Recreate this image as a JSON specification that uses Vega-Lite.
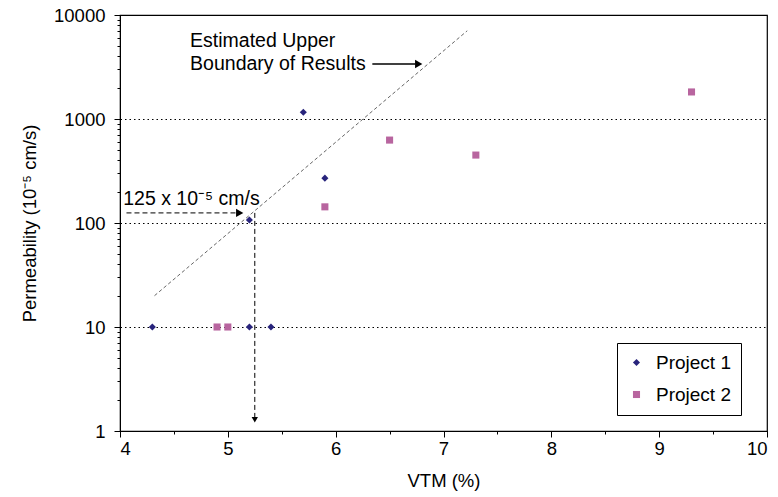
{
  "$schema": "https://vega.github.io/schema/vega-lite/v6.json",
  "width": 647,
  "height": 416,
  "autosize": {"type": "none"},
  "padding": {"left": 120, "top": 15, "right": 11, "bottom": 66},
  "background": "white",
  "config": {
    "font": "Liberation Sans",
    "view": {"stroke": "black", "strokeWidth": 1.2},
    "axis": {"domainColor": "black", "tickColor": "black", "labelColor": "black", "titleColor": "black", "labelFont": "Liberation Sans", "titleFont": "Liberation Sans", "titleFontWeight": "normal"}
  },
  "datasets": {
    "points": [
      {"vtm": 4.3, "perm": 10, "project": "Project 1"},
      {"vtm": 5.2, "perm": 10, "project": "Project 1"},
      {"vtm": 5.4, "perm": 10, "project": "Project 1"},
      {"vtm": 5.2, "perm": 107, "project": "Project 1"},
      {"vtm": 5.7, "perm": 1160, "project": "Project 1"},
      {"vtm": 5.9, "perm": 270, "project": "Project 1"},
      {"vtm": 4.9, "perm": 10, "project": "Project 2"},
      {"vtm": 5.0, "perm": 10, "project": "Project 2"},
      {"vtm": 5.9, "perm": 143, "project": "Project 2"},
      {"vtm": 6.5, "perm": 627, "project": "Project 2"},
      {"vtm": 7.3, "perm": 450, "project": "Project 2"},
      {"vtm": 9.3, "perm": 1820, "project": "Project 2"}
    ],
    "boundary": [{"vtm": 4.32, "perm": 20}, {"vtm": 7.22, "perm": 7050}],
    "harrow": [{"vtm": 4.06, "perm": 125}, {"vtm": 5.09, "perm": 125}],
    "varrow": [{"vtm": 5.25, "perm": 125}, {"vtm": 5.25, "perm": 1.35}],
    "uarrow": [{"vtm": 6.34, "perm": 3380}, {"vtm": 6.74, "perm": 3380}],
    "rightheads": [{"vtm": 5.11, "perm": 125}, {"vtm": 6.77, "perm": 3380}],
    "downheads": [{"vtm": 5.25, "perm": 1.28}],
    "labels": [
      {"vtm": 4.65, "perm": 5600, "text": "Estimated Upper"},
      {"vtm": 4.65, "perm": 3380, "text": "Boundary of Results"},
      {"vtm": 4.03, "perm": 172, "text": "125 x 10⁻⁵ cm/s"}
    ]
  },
  "layer": [
    {
      "data": {"name": "boundary"},
      "mark": {"type": "line", "color": "#555555", "strokeWidth": 0.9, "strokeDash": [3.5, 2.5]},
      "encoding": {
        "x": {"field": "vtm", "type": "quantitative", "scale": {"domain": [4, 10], "nice": false, "zero": false},
          "axis": {"values": [4, 4.5, 5, 5.5, 6, 6.5, 7, 7.5, 8, 8.5, 9, 9.5, 10], "grid": false,
            "labelExpr": "datum.value % 1 == 0 ? format(datum.value, 'd') : ''",
            "tickSize": {"condition": {"test": "datum.value % 1 == 0", "value": 6}, "value": 3},
            "labelFontSize": 18.5, "labelPadding": 2, "title": "VTM (%)", "titleFontSize": 18.5, "titlePadding": 14}},
        "y": {"field": "perm", "type": "quantitative", "scale": {"type": "log", "domain": [1, 10000], "nice": false},
          "axis": {"values": [1,2,3,4,5,6,7,8,9,10,20,30,40,50,60,70,80,90,100,200,300,400,500,600,700,800,900,1000,2000,3000,4000,5000,6000,7000,8000,9000,10000],
            "labelExpr": "indexof([1,10,100,1000,10000], datum.value) >= 0 ? format(datum.value, 'd') : ''",
            "tickSize": {"condition": {"test": "indexof([1,10,100,1000,10000], datum.value) >= 0", "value": 6}, "value": 3},
            "grid": true, "gridColor": "black", "gridDash": [1.5, 3], "gridWidth": 1.2,
            "gridOpacity": {"condition": {"test": "indexof([10,100,1000], datum.value) >= 0", "value": 1}, "value": 0},
            "labelFontSize": 18.5, "labelPadding": 9, "title": "Permeability (10⁻⁵ cm/s)", "titleFontSize": 18.5, "titlePadding": 14}}
      }
    },
    {
      "data": {"name": "harrow"},
      "mark": {"type": "line", "color": "black", "strokeWidth": 1, "strokeDash": [5, 3]},
      "encoding": {"x": {"field": "vtm", "type": "quantitative"}, "y": {"field": "perm", "type": "quantitative"}}
    },
    {
      "data": {"name": "varrow"},
      "mark": {"type": "line", "color": "black", "strokeWidth": 1, "strokeDash": [5, 3]},
      "encoding": {"x": {"field": "vtm", "type": "quantitative"}, "y": {"field": "perm", "type": "quantitative"}}
    },
    {
      "data": {"name": "uarrow"},
      "mark": {"type": "line", "color": "black", "strokeWidth": 1.5},
      "encoding": {"x": {"field": "vtm", "type": "quantitative"}, "y": {"field": "perm", "type": "quantitative"}}
    },
    {
      "data": {"name": "rightheads"},
      "mark": {"type": "point", "shape": "triangle-right", "filled": true, "color": "black", "size": 70, "opacity": 1},
      "encoding": {"x": {"field": "vtm", "type": "quantitative"}, "y": {"field": "perm", "type": "quantitative"}}
    },
    {
      "data": {"name": "downheads"},
      "mark": {"type": "point", "shape": "triangle-down", "filled": true, "color": "black", "size": 40, "opacity": 1},
      "encoding": {"x": {"field": "vtm", "type": "quantitative"}, "y": {"field": "perm", "type": "quantitative"}}
    },
    {
      "data": {"name": "labels"},
      "mark": {"type": "text", "align": "left", "baseline": "middle", "fontSize": 19.5, "font": "Liberation Sans", "color": "black"},
      "encoding": {"x": {"field": "vtm", "type": "quantitative"}, "y": {"field": "perm", "type": "quantitative"}, "text": {"field": "text"}}
    },
    {
      "data": {"name": "points"},
      "mark": {"type": "point", "filled": true, "opacity": 1},
      "encoding": {
        "x": {"field": "vtm", "type": "quantitative"},
        "y": {"field": "perm", "type": "quantitative"},
        "color": {"field": "project", "type": "nominal", "scale": {"domain": ["Project 1", "Project 2"], "range": ["#28247c", "#b8659f"]},
          "legend": {"title": null, "orient": "none", "legendX": 497, "legendY": 328, "strokeColor": "black", "fillColor": "white", "padding": 10, "labelFontSize": 19, "labelColor": "black", "symbolSize": 50, "rowPadding": 12, "labelOffset": 10}},
        "shape": {"field": "project", "type": "nominal", "scale": {"domain": ["Project 1", "Project 2"], "range": ["diamond", "square"]}},
        "size": {"value": 50}
      }
    }
  ]
}
